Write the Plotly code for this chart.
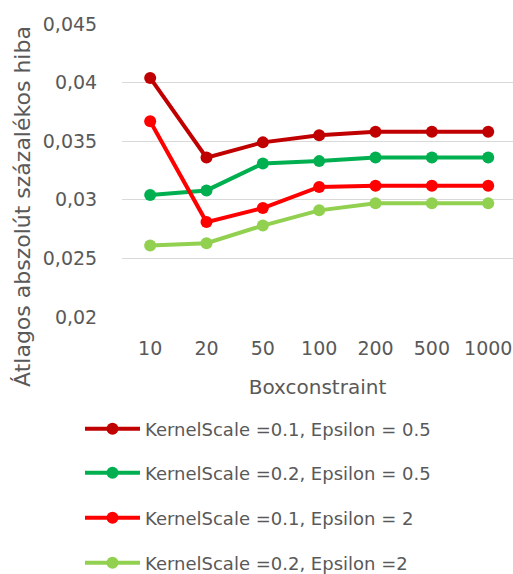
import plotly.graph_objects as go

# Boxconstraint values (categorical x axis)
box_constraint = ["10", "20", "50", "100", "200", "500", "1000"]

# Mean absolute percentage error for each parameter combination
ks01_eps05 = [0.0404, 0.0336, 0.0349, 0.0355, 0.0358, 0.0358, 0.0358]
ks02_eps05 = [0.0304, 0.0308, 0.0331, 0.0333, 0.0336, 0.0336, 0.0336]
ks01_eps2 = [0.0367, 0.0281, 0.0293, 0.0311, 0.0312, 0.0312, 0.0312]
ks02_eps2 = [0.0261, 0.0263, 0.0278, 0.0291, 0.0297, 0.0297, 0.0297]

series_names = [
    "KernelScale =0.1, Epsilon = 0.5",
    "KernelScale =0.2, Epsilon = 0.5",
    "KernelScale =0.1, Epsilon = 2",
    "KernelScale =0.2, Epsilon =2",
]
series_values = [ks01_eps05, ks02_eps05, ks01_eps2, ks02_eps2]
series_colors = ["#C00000", "#00B050", "#FF0000", "#92D050"]

y_tick_vals = [0.02, 0.025, 0.03, 0.035, 0.04, 0.045]
y_tick_text = ["0,02", "0,025", "0,03", "0,035", "0,04", "0,045"]

y_title = "Átlagos abszolút százalékos hiba"
x_title = "Boxconstraint"

FONT = "DejaVu Sans"
GREY = "#595959"

W, H = 513, 574
ML, MT, MB = 122, 24, 257
plot_top, plot_bottom = MT, H - MB
plot_w = W - ML


def px_to_paper_y(py):
    return (plot_bottom - py) / (plot_bottom - plot_top)


def px_to_paper_x(px):
    return (px - ML) / plot_w


fig = go.Figure()
legend_ids = ["legend", "legend2", "legend3", "legend4"]
for name, vals, color, lg in zip(series_names, series_values, series_colors, legend_ids):
    fig.add_trace(go.Scatter(
        x=box_constraint, y=vals, name=name, mode="lines+markers",
        line=dict(color=color, width=4),
        marker=dict(color=color, size=12),
        legend=lg, showlegend=True,
    ))

# one legend per series so the entries can be spaced freely below the axis
legend_y_px = [429, 473, 518, 563]
layout_legends = {}
for lg, py in zip(legend_ids, legend_y_px):
    layout_legends[lg] = dict(
        x=px_to_paper_x(80), xanchor="left", xref="paper",
        y=px_to_paper_y(py), yanchor="middle", yref="paper",
        font=dict(family=FONT, size=18, color=GREY),
        bgcolor="rgba(0,0,0,0)", itemwidth=55,
    )

fig.update_layout(
    width=W, height=H,
    margin=dict(l=ML, r=0, t=MT, b=MB, autoexpand=False),
    paper_bgcolor="white", plot_bgcolor="white",
    showlegend=True,
    font=dict(family=FONT, size=18, color=GREY),
    xaxis=dict(
        type="category", range=[-0.5, 6.44],
        showgrid=False, zeroline=False, showline=False,
        ticks="outside", ticklen=14, tickcolor="rgba(0,0,0,0)",
        tickfont=dict(family=FONT, size=19, color=GREY),
        title=dict(text=x_title, font=dict(family=FONT, size=20, color=GREY), standoff=22),
        automargin=False,
    ),
    yaxis=dict(
        range=[0.02, 0.045], tickvals=y_tick_vals, ticktext=y_tick_text,
        showgrid=True, gridcolor="#D9D9D9", gridwidth=1.3, zeroline=False, showline=False,
        ticks="outside", ticklen=20, tickcolor="rgba(0,0,0,0)",
        tickfont=dict(family=FONT, size=19, color=GREY),
        automargin=False,
    ),
    annotations=[dict(
        text=y_title, textangle=-90, showarrow=False,
        xref="paper", yref="paper",
        x=px_to_paper_x(22), y=px_to_paper_y(207),
        xanchor="center", yanchor="middle",
        font=dict(family=FONT, size=22, color=GREY),
    )],
    **layout_legends,
)

fig.write_html("out.html")
